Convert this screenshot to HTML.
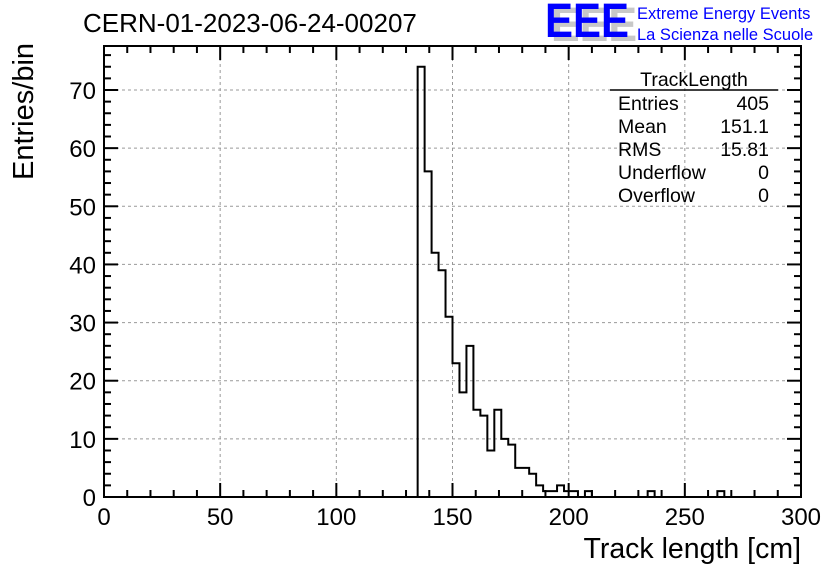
<!DOCTYPE html>
<html><head><meta charset="utf-8"><style>
body{margin:0;background:#fff;}
svg{display:block;font-family:"Liberation Sans",sans-serif;}
</style></head><body>
<svg id="c" width="836" height="572">
<text x="83" y="32" font-size="26">CERN-01-2023-06-24-00207</text>
<g>
<text x="551" y="41" font-size="48" font-weight="bold" fill="#c8c8c8" textLength="86" lengthAdjust="spacingAndGlyphs">EEE</text>
<text x="545" y="37" font-size="48" font-weight="bold" fill="#0000ff" textLength="84" lengthAdjust="spacingAndGlyphs">EEE</text>
<text x="637" y="19" font-size="16.5" fill="#0000ff">Extreme Energy Events</text>
<text x="637" y="40" font-size="16.5" fill="#0000ff">La Scienza nelle Scuole</text>
</g>
<g id="grid"></g>
<g id="axes"></g>
<path id="hist" fill="none" stroke="#000" stroke-width="2"/>
<rect x="104" y="46" width="697" height="451" fill="none" stroke="#000" stroke-width="2"/>
<g font-size="19.5">
<text x="694" y="86" text-anchor="middle">TrackLength</text>
<line x1="610" y1="90" x2="778" y2="90" stroke="#000" stroke-width="1.5"/>
<text x="618" y="110">Entries</text><text x="769" y="110" text-anchor="end">405</text>
<text x="618" y="133">Mean</text><text x="769" y="133" text-anchor="end">151.1</text>
<text x="618" y="156">RMS</text><text x="769" y="156" text-anchor="end">15.81</text>
<text x="618" y="179">Underflow</text><text x="769" y="179" text-anchor="end">0</text>
<text x="618" y="202">Overflow</text><text x="769" y="202" text-anchor="end">0</text>
</g>
<text x="801" y="558" font-size="28.5" text-anchor="end">Track length [cm]</text>
<text transform="translate(33,180) rotate(-90)" font-size="29">Entries/bin</text>
</svg>
<script>
const binStart = 135;
const binWidth = 3;
const counts = [74,56,42,39,31,23,18,26,15,14,8,15,10,9,5,5,4,2,1,1,2,1,1,0,1];
const extraBins = [234,264];
const extraCounts = [1,1];
const xTicks = [0,50,100,150,200,250,300];
const yTicks = [0,10,20,30,40,50,60,70];

const NS="http://www.w3.org/2000/svg";
const X0=104,X1=801,Y0=497,YT=46;
const xs=v=>X0+(v-0)/(300-0)*(X1-X0);
const ys=v=>Y0-v*(Y0-90)/70;
function mk(tag,attrs,parent){const e=document.createElementNS(NS,tag);for(const k in attrs)e.setAttribute(k,attrs[k]);parent.appendChild(e);return e;}
const grid=document.getElementById('grid'),axes=document.getElementById('axes');
xTicks.forEach(t=>{
  if(t>0&&t<300){const l=mk('line',{x1:xs(t),x2:xs(t),y1:YT,y2:Y0,stroke:'#999','stroke-dasharray':'3,3'},grid);
  
  }
  const tx=mk('text',{x:xs(t),y:525,'font-size':24,'text-anchor':'middle'},axes);tx.textContent=t;
  
  
});
yTicks.forEach(t=>{
  if(t>0){const l=mk('line',{x1:X0,x2:X1,y1:ys(t),y2:ys(t),stroke:'#999','stroke-dasharray':'3,3'},grid);
  
  }
  const tx=mk('text',{x:96,y:ys(t)+9,'font-size':24,'text-anchor':'end'},axes);tx.textContent=t;
  
  
});
for(let v=0;v<=300;v+=10){const L=v%50===0?14:7;
  mk('line',{x1:xs(v),x2:xs(v),y1:Y0,y2:Y0-L,stroke:'#000','stroke-width':2},axes);
  mk('line',{x1:xs(v),x2:xs(v),y1:YT,y2:YT+L,stroke:'#000','stroke-width':2},axes);}
for(let v=0;v<=76;v+=2){const L=v%10===0?14:7;
  mk('line',{x1:X0,x2:X0+L,y1:ys(v),y2:ys(v),stroke:'#000','stroke-width':2},axes);
  mk('line',{x1:X1,x2:X1-L,y1:ys(v),y2:ys(v),stroke:'#000','stroke-width':2},axes);}
let d='M'+xs(binStart)+','+ys(0);
counts.forEach((c,i)=>{const a=binStart+i*binWidth;d+=' L'+xs(a)+','+ys(c)+' L'+xs(a+binWidth)+','+ys(c);});
d+=' L'+xs(binStart+counts.length*binWidth)+','+ys(0);
extraBins.forEach((b,i)=>{d+=' M'+xs(b)+','+ys(0)+' L'+xs(b)+','+ys(extraCounts[i])+' L'+xs(b+binWidth)+','+ys(extraCounts[i])+' L'+xs(b+binWidth)+','+ys(0);});
document.getElementById('hist').setAttribute('d',d);
</script>
</body></html>
